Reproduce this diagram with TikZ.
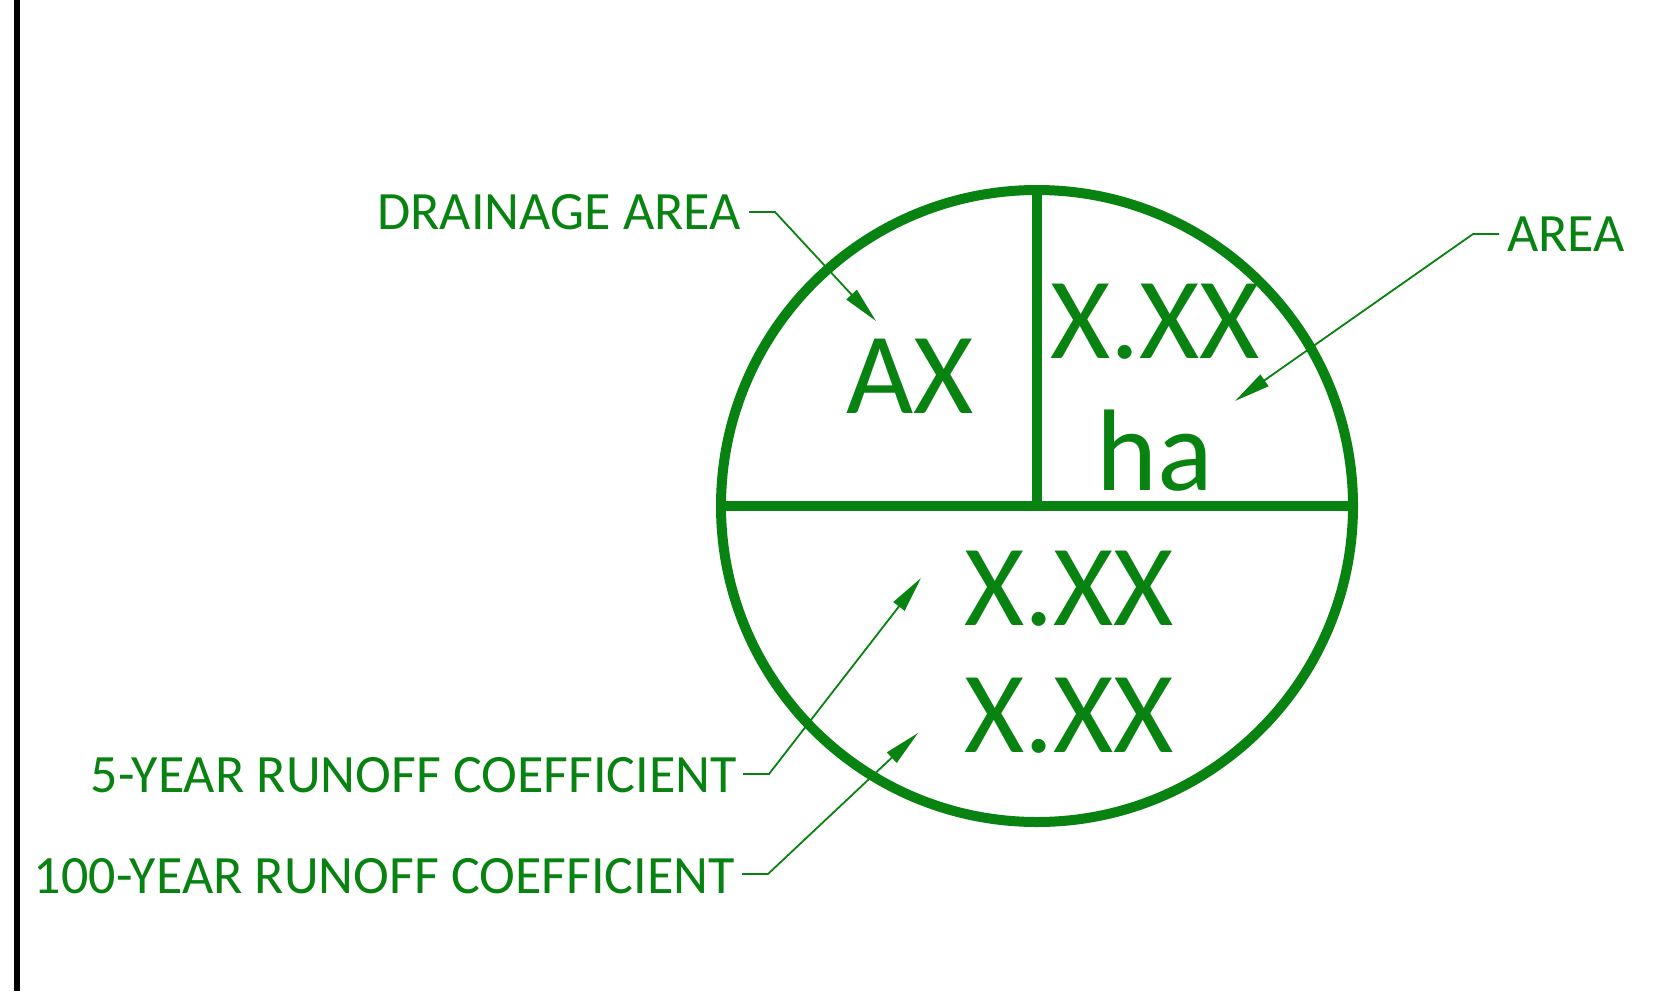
\documentclass[tikz,border=0pt]{standalone}
\usepackage{fontspec}
\setmainfont{Carlito}
\usetikzlibrary{arrows.meta}
\definecolor{dgreen}{RGB}{8,130,16}
\begin{document}
\begin{tikzpicture}[x=1pt,y=-1pt,
  big/.style={inner sep=0pt, text=dgreen, font=\fontsize{116}{120}\selectfont, anchor=base},
  lbl/.style={inner sep=0pt, text=dgreen, font=\fontsize{54}{60}\selectfont},
  leader/.style={draw=dgreen, line width=1.8pt, -{Triangle[length=36pt,width=14pt]}, fill=none},
  thick line/.style={draw=dgreen, line width=10pt}
]
\useasboundingbox (0,0) rectangle (1661,991);
\fill[white] (0,0) rectangle (1661,991);
% black border line
\draw[line width=6pt, black] (17,0) -- (17,991);

% circle
\node[circle, thick line, minimum size=632pt, inner sep=0pt] (ring) at (1037,506) {};
\draw[thick line] (ring.west) -- (ring.east);
\draw[thick line] (ring.north) -- (ring.center);

% texts inside
\node[big] (ax) at (910,413) {AX};
\node[big] (area) at (1155,358) {X.XX};
\node[big] (ha) at (1155,490) {ha};
\node[big] (c5) at (1069,625) {X.XX};
\node[big] (c100) at (1069,752) {X.XX};

% labels
\node[lbl, anchor=base east] (lda) at (741,229) {DRAINAGE AREA};
\node[lbl, anchor=base west] (larea) at (1507,251) {AREA};
\node[lbl, anchor=base east] (l5) at (737,792) {5-YEAR RUNOFF COEFFICIENT};
\node[lbl, anchor=base east] (l100) at (735,893) {100-YEAR RUNOFF COEFFICIENT};

% leader coordinates
\coordinate (da-s) at (749,212);
\coordinate (da-b) at (775,212);
\coordinate (da-t) at (876,321);
\coordinate (ar-s) at (1499,234);
\coordinate (ar-b) at (1473,234);
\coordinate (ar-t) at (1235,401);
\coordinate (c5-s) at (743,774);
\coordinate (c5-b) at (769,774);
\coordinate (c5-t) at (921,578);
\coordinate (c100-s) at (742,874);
\coordinate (c100-b) at (768,874);
\coordinate (c100-t) at (918,733);

\draw[leader] (da-s) -- (da-b) -- (da-t);
\draw[leader] (ar-s) -- (ar-b) -- (ar-t);
\draw[leader] (c5-s) -- (c5-b) -- (c5-t);
\draw[leader] (c100-s) -- (c100-b) -- (c100-t);
\end{tikzpicture}
\end{document}
